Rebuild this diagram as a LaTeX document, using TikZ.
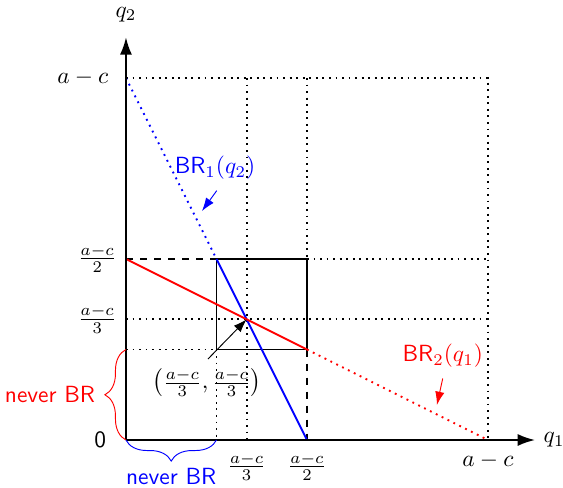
\documentclass[tikz,border=0pt]{standalone}
\usetikzlibrary{arrows.meta,decorations.pathreplacing}
\begin{document}
\begin{tikzpicture}[x=1.36cm,y=1.36cm,
  axis/.style={thick,-{Latex[length=2.6mm,width=1.8mm]}},
  grid/.style={thick,dotted},
  dashline/.style={thick,dashed},
  br/.style={thick},
  pointer/.style={-{Latex[length=2mm,width=1.4mm]}},
  bracedec/.style={decorate,decoration={brace,amplitude=9pt}},
  lab/.style={inner sep=1pt}]
\useasboundingbox (-1.392,-0.530) rectangle (4.829,4.862);
% key coordinates
\coordinate (O) at (0,0);
\coordinate (Yt) at (0,4);
\coordinate (Y2) at (0,2);
\coordinate (Y3) at (0,4/3);
\coordinate (Y4) at (0,1);
\coordinate (Xt) at (4,0);
\coordinate (X2) at (2,0);
\coordinate (X3) at (4/3,0);
\coordinate (X4) at (1,0);
\coordinate (TR) at (4,4);
\coordinate (B11) at (1,1);
\coordinate (B12) at (1,2);
\coordinate (B21) at (2,1);
\coordinate (B22) at (2,2);
\coordinate (N) at (4/3,4/3);
% dotted grid
\draw[grid] (Yt) -- (TR) -- (Xt);
\draw[grid] (2,4) -- (B22);
\draw[grid] (B22) -- (4,2);
\draw[grid] (4/3,4) -- (X3);
\draw[grid] (Y3) -- (4,4/3);
\draw[grid] (Y4) -- (B11);
\draw[grid] (B11) -- (X4);
% dashed
\draw[dashline] (Y2) -- (B12);
\draw[dashline] (B21) -- (X2);
% box
\draw[thick] (B11) rectangle (B22);
% best responses
\draw[br,blue,dotted] (Yt) -- (B12);
\draw[br,blue] (B12) -- (X2);
\draw[br,red] (Y2) -- (B21);
\draw[br,red,dotted] (B21) -- (Xt);
% axes
\coordinate (xend) at (4.52,0);
\coordinate (yend) at (0,4.45);
\draw[axis] (O) -- (xend);
\draw[axis] (O) -- (yend);
\node (q1) at (4.73,0) {$q_1$};
\node (q2) at (0,4.70) {$q_2$};
% tick labels
\node[left=5pt] (l0) at (O) {\textsf{0}};
\node[left=4pt] (lyt) at (Yt) {$a-c$};
\node[left=0.5pt] (ly2) at (Y2) {$\frac{a-c}{2}$};
\node[left=0.5pt] (ly3) at (Y3) {$\frac{a-c}{3}$};
\node[below=2pt] (lxt) at (Xt) {$a-c$};
\node[below=2pt] (lx2) at (X2) {$\frac{a-c}{2}$};
\node[below=2pt] (lx3) at (X3) {$\frac{a-c}{3}$};
% braces
\draw[bracedec,red] (O) -- (Y4) node[midway,left=12pt,lab] (nbr1) {\textsf{never BR}};
\draw[bracedec,blue] (X4) -- (O) node[midway,below=11pt,lab] (nbr2) {\textsf{never BR}};
% labels with pointers
\node[blue] (br1) at (0.983,3.006) {$\textsf{BR}_1(q_2)$};
\coordinate (br1t) at (0.84,2.53);
\draw[pointer,blue] (br1.south) ++(0.02,-0.03) coordinate (br1s) -- (br1t);
\node[red] (br2) at (3.50,0.93) {$\textsf{BR}_2(q_1)$};
\coordinate (br2t) at (3.436,0.387);
\draw[pointer,red] (br2.south) ++(0,-0.03) coordinate (br2s) -- (br2t);
\node (ne) at (0.895,0.63) {$\left(\frac{a-c}{3},\frac{a-c}{3}\right)$};
\coordinate (nes) at (0.906,0.895);
\draw[pointer] (nes) -- (N);
\end{tikzpicture}
\end{document}
